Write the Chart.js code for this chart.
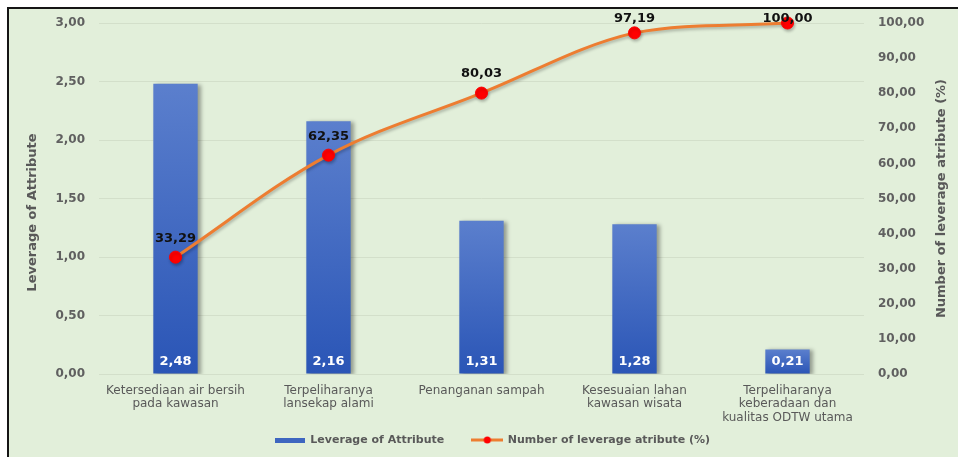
<!DOCTYPE html>
<html>
<head>
<meta charset="utf-8">
<script src="https://cdn.jsdelivr.net/npm/chart.js@4.4.1/dist/chart.umd.min.js"></script>
<style>
    html, body { margin: 0; padding: 0; background: #fff; overflow: hidden; }
    #wrap { width: 958px; height: 457px; }
</style>
</head>
<body>
<div id="wrap"><canvas id="leverageChart" width="958" height="457"></canvas></div>
<script>
const categories = [
    ['Ketersediaan air bersih', 'pada kawasan'],
    ['Terpeliharanya', 'lansekap alami'],
    'Penanganan sampah',
    ['Kesesuaian lahan', 'kawasan wisata'],
    ['Terpeliharanya', 'keberadaan dan', 'kualitas ODTW utama']
];
const leverageValues = [2.48, 2.16, 1.31, 1.28, 0.21];
const cumulativePercent = [33.29, 62.35, 80.03, 97.19, 100.00];
const leftTicks = [0, 0.5, 1, 1.5, 2, 2.5, 3];
const rightTicks = [0, 10, 20, 30, 40, 50, 60, 70, 80, 90, 100];

const fmt = v => Number(v).toFixed(2).replace('.', ',');
const FONT = "'DejaVu Sans', Verdana, sans-serif";

Chart.defaults.font.family = FONT;
Chart.defaults.color = '#595959';

// small legend icons: flat blue bar, orange line with red marker
function makeIcon(w, h, draw) {
    const c = document.createElement('canvas');
    c.width = w;
    c.height = h;
    draw(c.getContext('2d'), w, h);
    return c;
}
const legendIcons = {
    bar: makeIcon(30, 5, (g, w, h) => {
        g.fillStyle = '#3e66c0';
        g.fillRect(0, 0, w, h);
    }),
    line: makeIcon(32, 10, (g, w, h) => {
        g.strokeStyle = '#ed7d31';
        g.lineWidth = 3;
        g.beginPath();
        g.moveTo(0, h / 2);
        g.lineTo(w, h / 2);
        g.stroke();
        g.fillStyle = '#ff0000';
        g.beginPath();
        g.arc(w / 2, h / 2, 3.5, 0, Math.PI * 2);
        g.fill();
    })
};

function barFill(context) {
    const chart = context.chart;
    if (!chart.chartArea || context.raw === undefined) return '#4472c4';
    const yScale = chart.scales.y;
    const top = yScale.getPixelForValue(context.raw);
    const base = yScale.getPixelForValue(0);
    const g = chart.ctx.createLinearGradient(0, top, 0, base);
    g.addColorStop(0, '#5b7fcd');
    g.addColorStop(1, '#2a55b6');
    return g;
}

const backgroundPlugin = {
    id: 'frameBackground',
    beforeDraw(chart) {
        const { ctx, width, height } = chart;
        ctx.save();
        ctx.fillStyle = '#ffffff';
        ctx.fillRect(0, 0, width, height);
        ctx.fillStyle = '#e2efda';
        ctx.fillRect(9, 9, width - 9, height - 9);
        ctx.fillStyle = '#151515';
        ctx.fillRect(7, 7, width - 7, 2);
        ctx.fillRect(7, 7, 2, height - 7);
        ctx.restore();
    }
};

const shadowPlugin = {
    id: 'markShadow',
    beforeDatasetDraw(chart, args) {
        const ctx = chart.ctx;
        ctx.save();
        if (args.meta.type === 'bar') {
            ctx.shadowColor = 'rgba(0, 0, 0, 0.35)';
            ctx.shadowBlur = 4;
            ctx.shadowOffsetX = 3;
            ctx.shadowOffsetY = 1;
        } else {
            ctx.shadowColor = 'rgba(0, 0, 0, 0.25)';
            ctx.shadowBlur = 3;
            ctx.shadowOffsetX = 1;
            ctx.shadowOffsetY = 2;
        }
    },
    afterDatasetDraw(chart) {
        chart.ctx.restore();
    }
};

const valueLabelPlugin = {
    id: 'valueLabels',
    afterDatasetsDraw(chart) {
        const ctx = chart.ctx;
        ctx.save();
        ctx.textAlign = 'center';
        ctx.textBaseline = 'middle';
        ctx.font = 'bold 13px ' + FONT;
        chart.data.datasets.forEach((ds, i) => {
            const meta = chart.getDatasetMeta(i);
            meta.data.forEach((el, j) => {
                const text = fmt(ds.data[j]);
                if (ds.type === 'bar') {
                    ctx.fillStyle = '#ffffff';
                    ctx.fillText(text, el.x, el.base - 11.5);
                } else {
                    ctx.fillStyle = '#111111';
                    ctx.fillText(text, el.x, Math.max(el.y - 19, 19));
                }
            });
        });
        ctx.restore();
    }
};

const axisTitlePlugin = {
    id: 'axisTitles',
    afterLayout(chart) {
        // legend row: shifted under the plot centre, text line at y = 440
        const lg = chart.legend;
        if (lg) {
            lg.left += 13.5;
            lg.right += 13.5;
            lg.top = 406.5;
            lg.bottom = 455.5;
        }
    },
    afterDraw(chart) {
        const ctx = chart.ctx;
        const area = chart.chartArea;
        ctx.save();
        ctx.font = 'bold 13px ' + FONT;
        ctx.fillStyle = '#595959';
        ctx.textAlign = 'center';
        ctx.textBaseline = 'middle';
        ctx.translate(33, area.top + (area.bottom - area.top) / 2 + 14);
        ctx.rotate(-Math.PI / 2);
        ctx.fillText('Leverage of Attribute', 0, 0);
        ctx.restore();

        ctx.save();
        ctx.font = 'bold 13px ' + FONT;
        ctx.fillStyle = '#595959';
        ctx.textAlign = 'center';
        ctx.textBaseline = 'middle';
        ctx.translate(942, area.top + (area.bottom - area.top) / 2);
        ctx.rotate(-Math.PI / 2);
        ctx.fillText('Number of leverage atribute (%)', 0, 0);
        ctx.restore();
    }
};

new Chart(document.getElementById('leverageChart'), {
    data: {
        labels: categories,
        datasets: [
            {
                type: 'bar',
                label: 'Leverage of Attribute',
                data: leverageValues,
                yAxisID: 'y',
                backgroundColor: barFill,
                barPercentage: 0.29,
                categoryPercentage: 1,
                order: 1
            },
            {
                type: 'line',
                label: 'Number of leverage atribute (%)',
                data: cumulativePercent,
                yAxisID: 'y1',
                borderColor: '#ed7d31',
                borderWidth: 3,
                pointBackgroundColor: '#ff0000',
                pointBorderColor: '#ff0000',
                pointRadius: 6,
                pointBorderWidth: 1,
                tension: 0.35,
                clip: false,
                order: 0
            }
        ]
    },
    options: {
        responsive: false,
        animation: false,
        layout: {
            padding: { top: 23, bottom: 1, left: 0, right: 0 }
        },
        plugins: {
            tooltip: { enabled: false },
            legend: {
                position: 'bottom',
                maxHeight: 30,
                labels: {
                    usePointStyle: true,
                    pointStyleWidth: 30,
                    padding: 28,
                    color: '#595959',
                    font: { size: 11, weight: 'bold' },
                    generateLabels(chart) {
                        return chart.data.datasets.map((ds, i) => ({
                            text: ds.label,
                            datasetIndex: i,
                            pointStyle: legendIcons[ds.type],
                            fillStyle: 'transparent',
                            strokeStyle: 'transparent',
                            lineWidth: 0,
                            hidden: false,
                            fontColor: '#595959'
                        }));
                    }
                }
            }
        },
        scales: {
            x: {
                grid: { display: false },
                border: { display: false },
                afterFit(scale) { scale.height = 52; },
                ticks: {
                    color: '#595959',
                    padding: 2,
                    maxRotation: 0,
                    autoSkip: false,
                    font: { size: 12, lineHeight: 1.125 }
                }
            },
            y: {
                position: 'left',
                min: 0,
                max: 3,
                afterFit(scale) { scale.width = 99; },
                afterBuildTicks(scale) { scale.ticks = leftTicks.map(value => ({ value })); },
                grid: { color: '#d3dfca', drawTicks: false },
                border: { display: false },
                ticks: {
                    color: '#606060',
                    padding: 14,
                    font: { size: 12, weight: 'bold' },
                    callback: v => fmt(v)
                }
            },
            y1: {
                position: 'right',
                min: 0,
                max: 100,
                afterFit(scale) { scale.width = 94; },
                afterBuildTicks(scale) { scale.ticks = rightTicks.map(value => ({ value })); },
                grid: { display: false, drawTicks: false },
                border: { display: false },
                ticks: {
                    color: '#606060',
                    padding: 14,
                    font: { size: 12, weight: 'bold' },
                    callback: v => fmt(v)
                }
            }
        }
    },
    plugins: [backgroundPlugin, shadowPlugin, valueLabelPlugin, axisTitlePlugin]
});
</script>
</body>
</html>
